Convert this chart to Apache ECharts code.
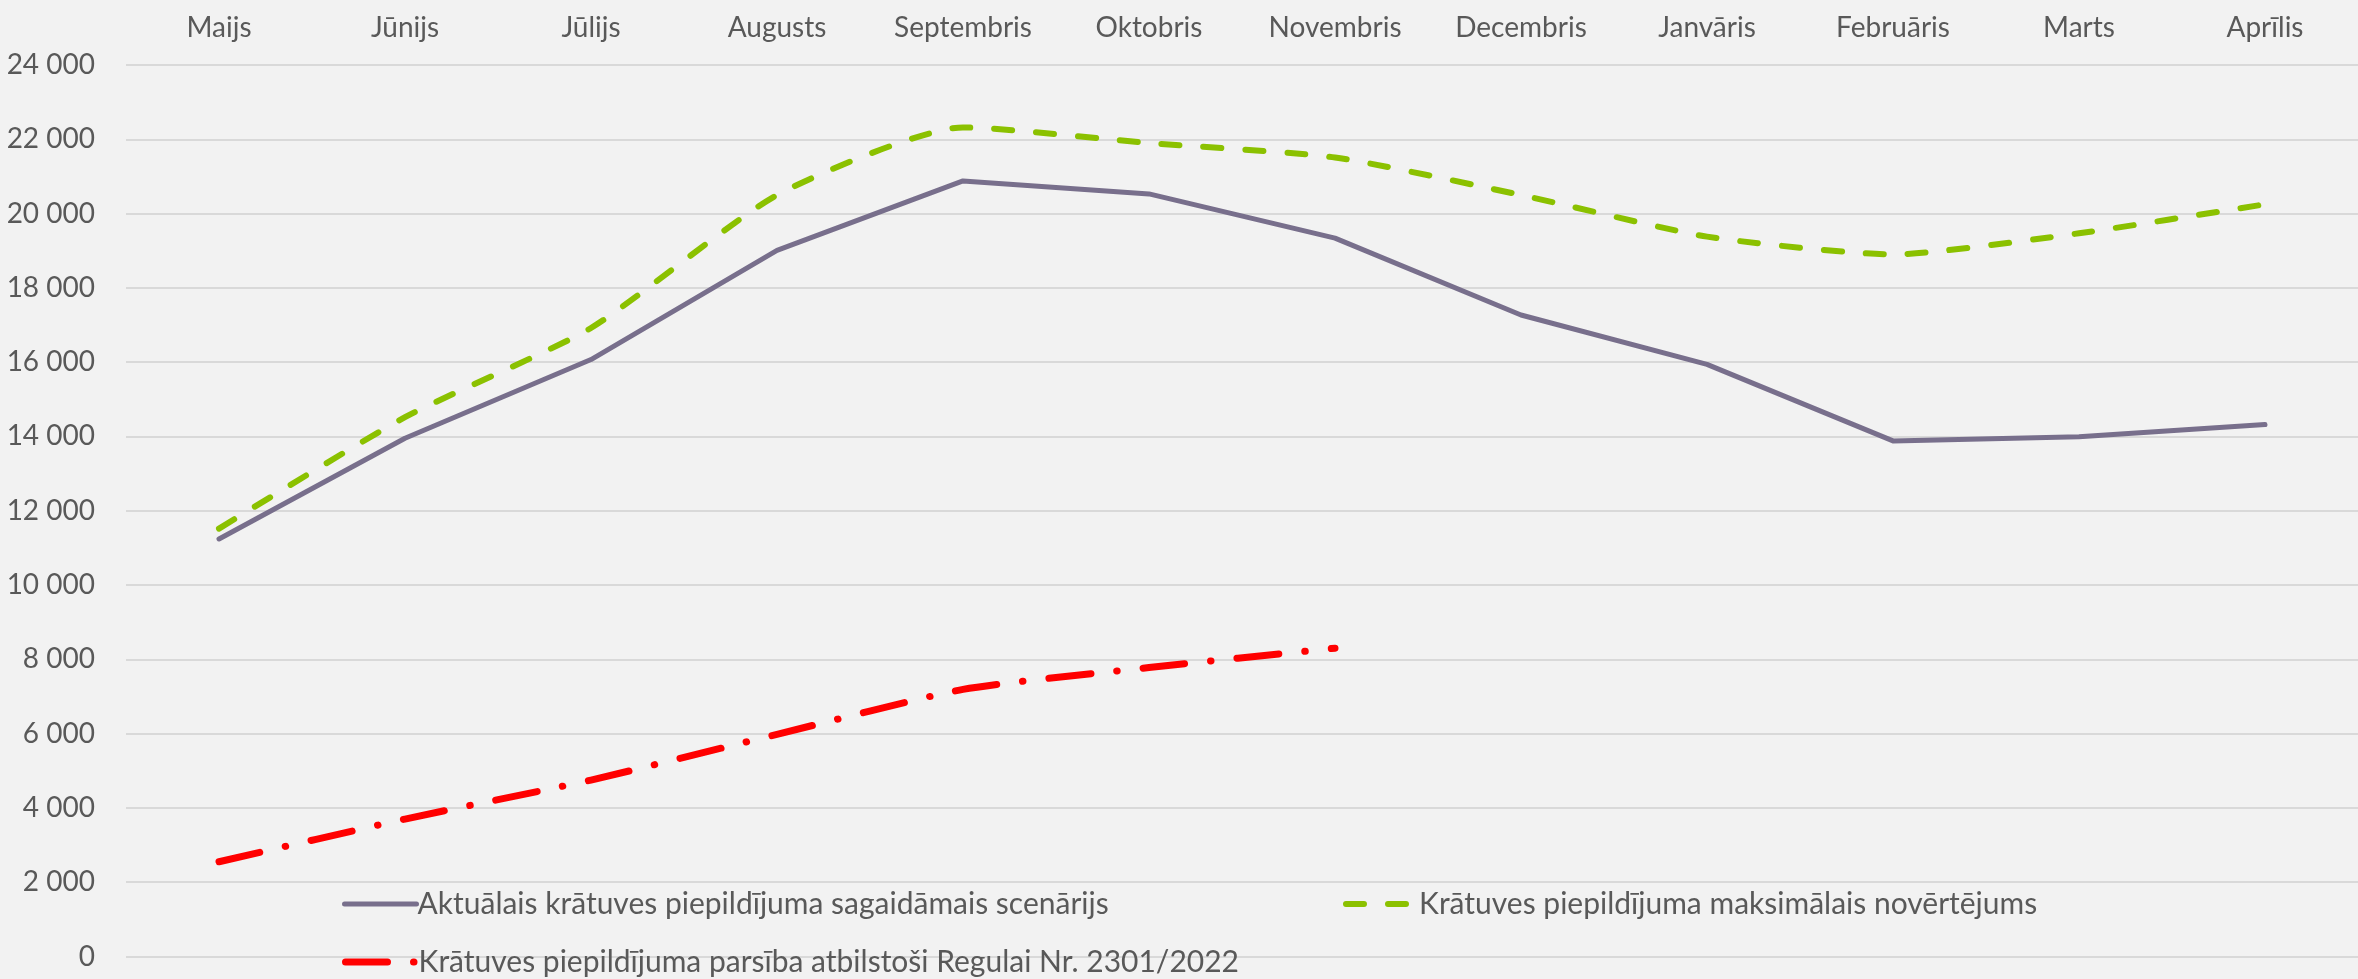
<!DOCTYPE html>
<html>
<head>
<meta charset="utf-8">
<script src="https://cdn.jsdelivr.net/npm/echarts@6/dist/echarts.min.js"></script>
<style>
html,body{margin:0;padding:0;background:#F2F2F2;}
#c{width:2358px;height:979px;}
</style>
</head>
<body>
<div id="c"></div>
<script>
const categories = ['Maijs','Jūnijs','Jūlijs','Augusts','Septembris','Oktobris','Novembris','Decembris','Janvāris','Februāris','Marts','Aprīlis'];
const actualScenario = [11240, 13950, 16070, 19010, 20880, 20530, 19340, 17270, 15940, 13880, 13990, 14320];
const maxEstimate = [11520, 14520, 16920, 20500, 22320, 21900, 21510, 20500, 19380, 18900, 19470, 20250];
const regulationPath = [2550, 3700, 4750, 5980, 7190, 7780, 8300, null, null, null, null, null];
const yTicks = {min: 0, max: 24000, interval: 2000};
const seriesNames = [
  'Aktuālais krātuves piepildījuma sagaidāmais scenārijs',
  'Krātuves piepildījuma maksimālais novērtējums',
  'Krātuves piepildījuma parsība atbilstoši Regulai Nr. 2301/2022'
];

const FONT = 'Lato';
const TXT = '#595959';
const chart = echarts.init(document.getElementById('c'), null, {renderer: 'canvas'});
const legendText = {color: TXT, fontFamily: FONT, fontSize: 30, padding: [0, 0, 0, -4]};
const legendBase = {itemWidth: 72, itemHeight: 14, textStyle: legendText, itemStyle: {opacity: 0}};
chart.setOption({
  backgroundColor: '#F2F2F2',
  animation: false,
  grid: {left: 126, top: 65, width: 2241.6, height: 891.5, containLabel: false},
  legend: [
    Object.assign({data: [seriesNames[0]], left: 337, top: 884, lineStyle: {width: 5}}, legendBase),
    Object.assign({data: [seriesNames[1]], left: 1338, top: 884, lineStyle: {width: 6}}, legendBase),
    Object.assign({data: [seriesNames[2]], left: 337, top: 942, lineStyle: {width: 7}}, legendBase)
  ],
  xAxis: {
    type: 'category',
    position: 'top',
    data: categories,
    boundaryGap: true,
    axisLine: {show: false},
    axisTick: {show: false},
    axisLabel: {color: TXT, fontFamily: FONT, fontSize: 28, margin: 23}
  },
  yAxis: {
    type: 'value',
    min: yTicks.min, max: yTicks.max, interval: yTicks.interval,
    axisLine: {show: false},
    axisTick: {show: false},
    splitLine: {lineStyle: {color: '#D9D9D9', width: 2}},
    axisLabel: {
      color: TXT, fontFamily: FONT, fontSize: 28, margin: 31,
      formatter: v => String(v).replace(/\B(?=(\d{3})+(?!\d))/g, ' ')
    }
  },
  series: [
    {
      name: seriesNames[0], type: 'line', data: actualScenario,
      symbol: 'none', smooth: false,
      lineStyle: {color: '#786F8C', width: 5, cap: 'round', join: 'round'},
      itemStyle: {color: '#786F8C'}
    },
    {
      name: seriesNames[1], type: 'line', data: maxEstimate,
      symbol: 'none', smooth: 0.2,
      lineStyle: {color: '#8BC100', width: 6, type: [18, 24], cap: 'round', join: 'round'},
      itemStyle: {color: '#8BC100'}
    },
    {
      name: seriesNames[2], type: 'line', data: regulationPath,
      symbol: 'none', smooth: 0.2, connectNulls: false,
      lineStyle: {color: '#FF0000', width: 7, type: [42, 26, 0.5, 26], cap: 'round', join: 'round'},
      itemStyle: {color: '#FF0000'}
    }
  ]
});
</script>
</body>
</html>
